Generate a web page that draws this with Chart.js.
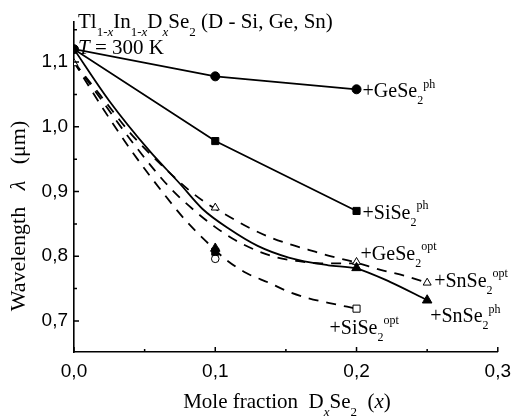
<!DOCTYPE html>
<html>
<head>
<meta charset="utf-8">
<script src="https://cdn.jsdelivr.net/npm/chart.js@4.4.0/dist/chart.umd.min.js"></script>
<style>
  html, body { margin: 0; padding: 0; background: #fff; }
</style>
</head>
<body>
<canvas id="chart" width="519" height="417"></canvas>
<script>
// Tl(1-x)In(1-x)DxSe2 — wavelength vs mole fraction, T = 300 K

const xTicks = [0, 0.1, 0.2, 0.3];
const yTicks = [0.7, 0.8, 0.9, 1.0, 1.1];

// photoconductivity points (filled)
const phX = [0, 0.1, 0.2];
const geSePh = [1.12, 1.078, 1.058];
const siSePh = [1.12, 0.978, 0.870];
const snPhX = [0.1, 0.2, 0.25];
const snSePh = [0.812, 0.782, 0.732];
const blockX = [0.1];
const block = [0.807];

// optical points (open)
const optTriX = [0, 0.1, 0.2, 0.25];
const optTri = [1.098, 0.875, 0.791, 0.759];
const optCircX = [0.1];
const optCirc = [0.796];
const optSqX = [0.2];
const optSq = [0.719];

// solid fit through SnSe2 photo data
const snFitX = [0, 0.025, 0.053, 0.075, 0.091, 0.11, 0.13, 0.152, 0.18, 0.2, 0.224, 0.25];
const snFit = [1.12, 1.04, 0.964, 0.912, 0.873, 0.842, 0.816, 0.798, 0.786, 0.781, 0.760, 0.732];

// dashed fits through optical data
const siOptFitX = [0, 0.02, 0.04, 0.063, 0.08, 0.094, 0.108, 0.122, 0.138, 0.152, 0.166, 0.18, 0.2];
const siOptFit = [1.10, 1.03, 0.965, 0.898, 0.853, 0.822, 0.794, 0.774, 0.759, 0.745, 0.735, 0.728, 0.719];
const geOptFitX = [0, 0.02, 0.04, 0.067, 0.085, 0.1, 0.114, 0.128, 0.142, 0.157, 0.175, 0.2];
const geOptFit = [1.10, 1.04, 0.98, 0.908, 0.871, 0.845, 0.825, 0.810, 0.799, 0.793, 0.789, 0.789];
const snOptFitX = [0, 0.02, 0.04, 0.06, 0.0815, 0.095, 0.11, 0.124, 0.138, 0.152, 0.166, 0.18, 0.2, 0.217, 0.234, 0.25];
const snOptFit = [1.10, 1.045, 0.99, 0.945, 0.902, 0.88, 0.861, 0.844, 0.83, 0.819, 0.81, 0.801, 0.79, 0.779, 0.77, 0.759];

const pts = (xs, ys) => xs.map((x, i) => ({ x, y: ys[i] }));
const SERIF = '"Liberation Serif", "Times New Roman", serif';

// text with sub/superscripts: [text, 'n'|'b'|'p', italic]
function rich(ctx, parts, x, y, size, align) {
  const items = parts.map(([t, k = 'n', it = false]) => {
    const s = k === 'n' ? size : Math.round(size * 0.62);
    const font = `${it ? 'italic ' : ''}${s}px ${SERIF}`;
    ctx.font = font;
    return { t, k, font, w: ctx.measureText(t).width };
  });
  const total = items.reduce((a, b) => a + b.w, 0);
  let cx = align === 'center' ? x - total / 2 : x;
  ctx.textAlign = 'left';
  ctx.textBaseline = 'alphabetic';
  items.forEach(it => {
    ctx.font = it.font;
    const dy = it.k === 'b' ? size * 0.36 : it.k === 'p' ? -size * 0.48 : 0;
    ctx.fillText(it.t, cx, y + dy);
    cx += it.w;
  });
}

const decor = {
  id: 'decor',
  afterDraw(chart) {
    const { ctx, chartArea: a, scales: { x, y } } = chart;
    ctx.save();
    ctx.strokeStyle = '#000';
    ctx.fillStyle = '#000';
    ctx.lineWidth = 1.5;
    // inward ticks
    ctx.beginPath();
    [0, 0.05, 0.1, 0.15, 0.2, 0.25, 0.3].forEach((v, i) => {
      const px = x.getPixelForValue(v), len = i % 2 ? 3 : 5;
      ctx.moveTo(px, a.bottom); ctx.lineTo(px, a.bottom - len);
    });
    [0.7, 0.75, 0.8, 0.85, 0.9, 0.95, 1.0, 1.05, 1.1, 1.15].forEach((v, i) => {
      const py = y.getPixelForValue(v), len = i % 2 ? 3 : 5;
      ctx.moveTo(a.left, py); ctx.lineTo(a.left + len, py);
    });
    ctx.stroke();

    // title
    rich(ctx, [['Tl'], ['1-', 'b'], ['x', 'b', true], ['In'], ['1-', 'b'], ['x', 'b', true],
      ['D'], ['x', 'b', true], ['Se'], ['2', 'b'], [' (D - Si, Ge, Sn)']], 78, 28, 21);
    rich(ctx, [['T', 'n', true], [' = 300 K']], 78, 54, 21);

    // curve labels
    const lab = (name, sup, xv, yv, dx, dy) => {
      rich(ctx, [['+' + name + 'Se'], ['2', 'b'], [sup, 'p']],
        x.getPixelForValue(xv) + dx, y.getPixelForValue(yv) + dy, 20);
    };
    lab('Ge', 'ph', 0.2, 1.058, 6, 8);
    lab('Si', 'ph', 0.2, 0.870, 6, 8);
    lab('Ge', 'opt', 0.2, 0.791, 4, -2);
    lab('Sn', 'opt', 0.25, 0.759, 7, 4);
    lab('Sn', 'ph', 0.25, 0.732, 3, 22);
    lab('Si', 'opt', 0.2, 0.719, -27, 25);

    // axis titles
    rich(ctx, [['Mole fraction  D'], ['x', 'b', true], ['Se'], ['2', 'b'], ['  ('], ['x', 'n', true], [')']],
      287, 408, 21, 'center');
    ctx.translate(25, 216);
    ctx.rotate(-Math.PI / 2);
    rich(ctx, [['Wavelength   '], ['λ', 'n', true], ['   (μm)']], 0, 0, 22, 'center');
    ctx.restore();
  }
};

const solid = { borderColor: '#000', borderWidth: 1.8, showLine: true, pointRadius: 0, order: 2 };
const dashed = { ...solid, borderDash: [10, 8], cubicInterpolationMode: 'monotone' };
const filled = { backgroundColor: '#000', borderColor: '#000', borderWidth: 1, showLine: false, order: 0 };
const hollow = { backgroundColor: '#fff', borderColor: '#000', borderWidth: 1, showLine: false, order: 0 };

const fmt = v => v.toFixed(1).replace('.', ',');

new Chart(document.getElementById('chart'), {
  type: 'scatter',
  data: {
    datasets: [
      { ...solid, data: pts(phX, geSePh) },
      { ...solid, data: pts(phX, siSePh) },
      { ...solid, data: pts(snFitX, snFit), cubicInterpolationMode: 'monotone' },
      { ...dashed, data: pts(siOptFitX, siOptFit) },
      { ...dashed, data: pts(geOptFitX, geOptFit) },
      { ...dashed, data: pts(snOptFitX, snOptFit) },
      { ...filled, data: pts(phX, geSePh), pointStyle: 'circle', pointRadius: 4.5 },
      { ...filled, data: pts(phX.slice(1), siSePh.slice(1)), pointStyle: 'rect', pointRadius: 5 },
      { ...filled, data: pts(blockX, block), pointStyle: 'rect', pointRadius: 5 },
      { ...filled, data: pts(snPhX, snSePh), pointStyle: 'triangle', pointRadius: 5.5 },
      { ...hollow, data: pts(optTriX, optTri), pointStyle: 'triangle', pointRadius: 4.6 },
      { ...hollow, data: pts(optCircX, optCirc), pointStyle: 'circle', pointRadius: 3.8 },
      { ...hollow, data: pts(optSqX, optSq), pointStyle: 'rect', pointRadius: 5 }
    ]
  },
  options: {
    responsive: false,
    animation: false,
    events: [],
    layout: { padding: { top: 22, right: 18, left: 0, bottom: 0 } },
    plugins: { legend: { display: false }, tooltip: { enabled: false } },
    scales: {
      x: {
        type: 'linear', min: 0, max: 0.3,
        afterBuildTicks: s => { s.ticks = xTicks.map(value => ({ value })); },
        afterFit: s => { s.height = 65; },
        grid: { display: true, drawOnChartArea: false, drawTicks: false },
        border: { display: true, color: '#000', width: 1.6 },
        ticks: { padding: 8, color: '#000', font: { family: '"Liberation Sans", Arial', size: 19 }, callback: fmt, maxRotation: 0 }
      },
      y: {
        type: 'linear', min: 0.652, max: 1.162,
        afterBuildTicks: s => { s.ticks = yTicks.map(value => ({ value })); },
        afterFit: s => { s.width = 74; },
        grid: { display: true, drawOnChartArea: false, drawTicks: false },
        border: { display: true, color: '#000', width: 1.6 },
        ticks: { padding: 6, color: '#000', font: { family: '"Liberation Sans", Arial', size: 19 }, callback: fmt }
      }
    }
  },
  plugins: [decor]
});
</script>
</body>
</html>
